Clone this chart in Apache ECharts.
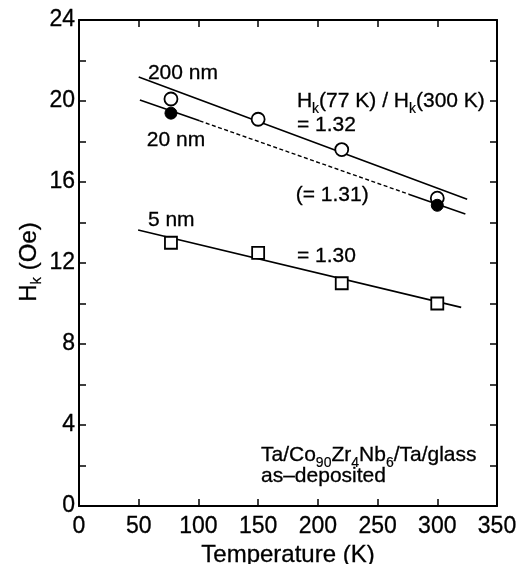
<!DOCTYPE html>
<html>
<head>
<meta charset="utf-8">
<title>Hk vs temperature</title>
<script src="https://cdn.jsdelivr.net/npm/echarts@6/dist/echarts.min.js"></script>
<style>
  html, body { margin: 0; padding: 0; background: #fff; }
  #chart { width: 530px; height: 564px; }
</style>
</head>
<body>
<div id="chart"></div>
<script>
// Measured anisotropy field Hk (Oe) vs. temperature (K)
const temps = [77, 150, 220, 300];
const hk200 = [20.1, 19.1, 17.6, 15.2];   // 200 nm, open circles
const temps20 = [77, 300];
const hk20 = [19.4, 14.85];               // 20 nm, filled circles
const hk5 = [13.0, 12.5, 11.0, 10.0];     // 5 nm, open squares

// Straight guide lines through each thickness set
const fit200T = [50, 325];
const fit200 = [21.18, 15.15];
const fit20T = [51, 101, 276, 323.5];     // solid / dashed / solid
const fit20 = [20.05, 19.02, 15.40, 14.42];
const fit5T = [49.5, 320];
const fit5 = [13.63, 9.81];

// Axis ranges and ticks
const xTicks = { min: 0, max: 350, step: 50 };
const yTicks = { min: 0, max: 24, step: 2, labelStep: 4 };

const FONT = '"Liberation Sans", Arial, Helvetica, sans-serif';
// slight outline so the axis lettering reads as heavy as the plotted lines
const INK = { color: '#000', textBorderColor: '#000', textBorderWidth: 0.3 };

function pairs(xs, ys) { return xs.map((x, i) => [x, ys[i]]); }

const chart = echarts.init(document.getElementById('chart'), null, { renderer: 'canvas' });

const axisLine = { show: true, onZero: false, lineStyle: { color: '#000', width: 2 } };
const axisTick = { show: true, inside: true, length: 7, lineStyle: { color: '#000', width: 1.5 } };

const xBase = { type: 'value', min: xTicks.min, max: xTicks.max, interval: xTicks.step,
  axisLine, axisTick, splitLine: { show: false } };
const yBase = { type: 'value', min: yTicks.min, max: yTicks.max, interval: yTicks.step,
  axisLine, axisTick, splitLine: { show: false } };

function lineSeries(data, dash) {
  return { type: 'line', data, symbol: 'none', silent: true, animation: false, z: 2,
    lineStyle: { color: '#000', width: dash ? 1.4 : 1.6, type: dash || 'solid' } };
}

chart.setOption({
  animation: false,
  backgroundColor: '#fff',
  grid: { left: 79, top: 20, right: 33, bottom: 58, containLabel: false, outerBoundsMode: 'none' },
  xAxis: [
    Object.assign({}, xBase, {
      position: 'bottom',
      name: 'Temperature (K)', nameLocation: 'middle', nameGap: 35,
      nameTextStyle: Object.assign({ fontFamily: FONT, fontSize: 24 }, INK),
      axisLabel: Object.assign({ fontFamily: FONT, fontSize: 23, margin: 9 }, INK)
    }),
    Object.assign({}, xBase, { position: 'top', axisLabel: { show: false } })
  ],
  yAxis: [
    Object.assign({}, yBase, {
      position: 'left',
      axisLabel: Object.assign({ fontFamily: FONT, fontSize: 23, margin: 4,
        formatter: v => (v % yTicks.labelStep === 0 ? String(v) : '') }, INK)
    }),
    Object.assign({}, yBase, { position: 'right', axisLabel: { show: false } })
  ],
  series: [
    lineSeries(pairs(fit200T, fit200)),
    lineSeries(pairs(fit20T.slice(0, 2), fit20.slice(0, 2))),
    lineSeries(pairs(fit20T.slice(1, 3), fit20.slice(1, 3)), [4, 2.5]),
    lineSeries(pairs(fit20T.slice(2, 4), fit20.slice(2, 4))),
    lineSeries(pairs(fit5T, fit5)),
    {
      name: '200 nm', type: 'scatter', data: pairs(temps, hk200), symbol: 'circle', symbolSize: 13,
      itemStyle: { color: '#fff', borderColor: '#000', borderWidth: 1.8, opacity: 1 }, z: 3, silent: true
    },
    {
      name: '20 nm', type: 'scatter', data: pairs(temps20, hk20), symbol: 'circle', symbolSize: 12,
      itemStyle: { color: '#000', borderColor: '#000', borderWidth: 1, opacity: 1 }, z: 4, silent: true
    },
    {
      name: '5 nm', type: 'scatter', data: pairs(temps, hk5), symbol: 'rect', symbolSize: 12,
      itemStyle: { color: '#fff', borderColor: '#000', borderWidth: 1.8, opacity: 1 }, z: 3, silent: true
    }
  ]
});

// Text annotations placed in data coordinates (zrender text styles)
const main = { fontFamily: FONT, fontSize: 21, lineHeight: 30, verticalAlign: 'middle',
  fill: '#000', stroke: '#000', lineWidth: 0.3 };
const sub = { fontFamily: FONT, fontSize: 14, lineHeight: 14, verticalAlign: 'bottom',
  fill: '#000', stroke: '#000', lineWidth: 0.2 };
const notes = [
  { at: [57.7, 21.38], text: '{m|200 nm}' },
  { at: [56.8, 18.07], text: '{m|20 nm}' },
  { at: [182.5, 20.0], text: '{m|H}{s|k}{m|(77 K) / H}{s|k}{m|(300 K)}' },
  { at: [182.5, 18.81], text: '{m|= 1.32}' },
  { at: [181.5, 15.36], text: '{m|(= 1.31)}' },
  { at: [57.7, 14.12], text: '{m|5 nm}' },
  { at: [182.5, 12.35], text: '{m|= 1.30}' },
  { at: [152.4, 2.52], text: '{m|Ta/Co}{s|90}{m|Zr}{s|4}{m|Nb}{s|6}{m|/Ta/glass}' },
  { at: [152.4, 1.45], text: '{m|as\u2013deposited}' }
];

const graphics = notes.map(n => {
  const p = chart.convertToPixel({ gridIndex: 0 }, n.at);
  return {
    type: 'text', x: p[0], y: p[1], silent: true, z: 10,
    style: { text: n.text, rich: { m: main, s: sub },
      align: 'left', verticalAlign: 'middle' }
  };
});

// Y axis title, rotated, with subscript k
graphics.push({
  type: 'text', x: 29, y: 262, rotation: Math.PI / 2, silent: true, z: 10,
  style: {
    text: '{m|H}{s|k}{m| (Oe)}',
    rich: { m: Object.assign({}, main, { fontSize: 24 }), s: Object.assign({}, sub, { fontSize: 15 }) },
    align: 'center', verticalAlign: 'middle'
  }
});

chart.setOption({ graphic: graphics });
</script>
</body>
</html>
